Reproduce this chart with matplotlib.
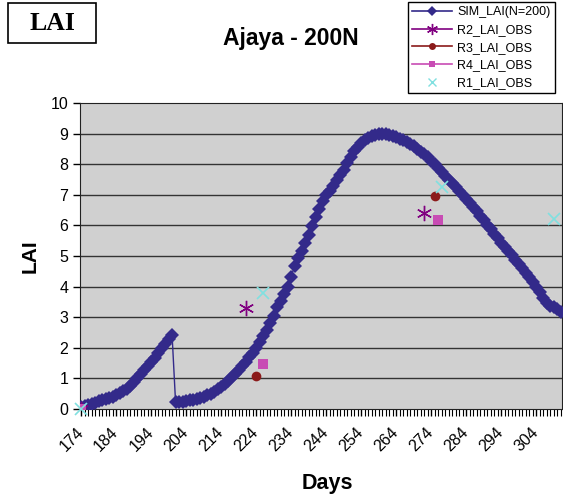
import matplotlib
matplotlib.use('Agg')
import matplotlib.pyplot as plt
from matplotlib.lines import Line2D
from matplotlib.patches import Rectangle
from matplotlib.ticker import MultipleLocator, FixedLocator
import numpy

plt.rcParams['font.family'] = ['Liberation Sans', 'DejaVu Sans']

# simulated LAI, one value per day 174..311
sim_days = list(range(174, 312))
sim_lai = [
    0.05, 0.09, 0.13, 0.17, 0.21, 0.25, 0.29, 0.32, 0.36, 0.40,   # 174-183
    0.45, 0.51, 0.58, 0.66, 0.75, 0.88, 1.02, 1.14, 1.27, 1.40,   # 184-193
    1.54, 1.68, 1.83, 1.98, 2.13, 2.28, 2.43, 0.22, 0.23, 0.24,   # 194-203
    0.26, 0.28, 0.30, 0.33, 0.36, 0.40, 0.45, 0.50, 0.57, 0.65,   # 204-213
    0.73, 0.82, 0.92, 1.03, 1.15, 1.27, 1.40, 1.54, 1.69, 1.84,   # 214-223
    2.00, 2.18, 2.38, 2.58, 2.80, 3.05, 3.32, 3.52, 3.75, 4.00,   # 224-233
    4.33, 4.66, 4.95, 5.15, 5.42, 5.68, 5.97, 6.27, 6.55, 6.80,   # 234-243
    6.98, 7.12, 7.28, 7.50, 7.65, 7.82, 8.05, 8.25, 8.42, 8.55,   # 244-253
    8.68, 8.78, 8.86, 8.93, 8.97, 9.00, 9.00, 8.98, 8.96, 8.93,   # 254-263
    8.88, 8.82, 8.78, 8.72, 8.66, 8.58, 8.50, 8.41, 8.32, 8.22,   # 264-273
    8.12, 8.02, 7.88, 7.75, 7.62, 7.50, 7.38, 7.26, 7.13, 7.00,   # 274-283
    6.87, 6.74, 6.60, 6.46, 6.32, 6.17, 6.02, 5.87, 5.72, 5.58,   # 284-293
    5.44, 5.30, 5.16, 5.02, 4.88, 4.74, 4.60, 4.45, 4.30, 4.15,   # 294-303
    4.00, 3.82, 3.64, 3.47, 3.38, 3.33, 3.26, 3.18,               # 304-311
]

# observed LAI per replicate
r2_days = [174, 221, 272]
r2_lai = [0.0, 3.30, 6.42]
r3_days = [174, 224, 275]
r3_lai = [0.0, 1.08, 6.95]
r4_days = [174, 226, 276]
r4_lai = [0.0, 1.47, 6.18]
r1_days = [174, 226, 277, 309]
r1_lai = [0.0, 3.78, 7.26, 6.20]

tick_days = list(range(174, 305, 10))

c_sim = '#332a8a'
c_r2 = '#800080'
c_r3 = '#8b1a1a'
c_r4 = '#c84cb4'
c_r1 = '#80e0e0'

W, H = 563, 495
fig = plt.figure(figsize=(W / 100, H / 100), dpi=100)
ax = fig.add_axes([80 / W, 1 - 409 / H, (562 - 80) / W, (409 - 103) / H])
ax.set_facecolor('#d0d0d0')

for v in range(1, 10):
    ax.axhline(v, color='#333333', lw=1, zorder=1)

ax.plot(sim_days, sim_lai, color=c_sim, lw=1, marker='D', markersize=7,
        markeredgewidth=0, zorder=3)
ax.plot(r2_days, r2_lai, ls='none', marker=(6, 2, 0), markersize=11,
        markeredgewidth=1.0, color=c_r2, zorder=4)
ax.plot(r3_days, r3_lai, ls='none', marker='o', markersize=7,
        markeredgewidth=0, color=c_r3, zorder=4)
ax.plot(r4_days, r4_lai, ls='none', marker='s', markersize=6.5,
        markeredgewidth=0, color=c_r4, zorder=4)
ax.plot(r1_days, r1_lai, ls='none', marker='x', markersize=8,
        markeredgewidth=1.2, color=c_r1, zorder=5, clip_on=False)

ax.set_xlim(173.7, 311.4)
ax.set_ylim(0, 10)
ax.yaxis.set_major_locator(MultipleLocator(1))
ax.xaxis.set_major_locator(FixedLocator(tick_days))
ax.xaxis.set_minor_locator(MultipleLocator(1))
ax.tick_params(axis='both', direction='out', length=5, width=1, labelsize=11.5)
ax.tick_params(axis='x', which='major', pad=10)
ax.tick_params(axis='x', which='minor', length=5, width=0.8)
ax.set_xticks(tick_days)
ax.set_xticklabels([str(d) for d in tick_days], rotation=45, ha='right',
                   va='center', rotation_mode='anchor')
for s in ax.spines.values():
    s.set_color('#222222')

fig.text(30 / W, 1 - 256 / H, 'LAI', rotation=90, fontsize=15,
         fontweight='bold', ha='center', va='center')
fig.text(327 / W, 1 - 483 / H, 'Days', fontsize=15.5, fontweight='bold',
         ha='center', va='center')
fig.text(291 / W, 1 - 39 / H, 'Ajaya - 200N', fontsize=16.5,
         fontweight='bold', ha='center', va='center')

# boxed panel label
fig.patches.append(Rectangle((8 / W, 1 - 43 / H), 88 / W, 40 / H,
                             transform=fig.transFigure, fill=False,
                             edgecolor='black', lw=1.2))
fig.text(52 / W, 1 - 24 / H, 'LAI', family=['Liberation Serif', 'DejaVu Serif'],
         fontsize=18.5, fontweight='bold', ha='center', va='center')

handles = [
    Line2D([], [], color=c_sim, marker='D', markersize=5, markeredgewidth=0, lw=1.2),
    Line2D([], [], color=c_r2, marker=(6, 2, 0), markersize=8, markeredgewidth=1.0, lw=1.2),
    Line2D([], [], color=c_r3, marker='o', markersize=5, markeredgewidth=0, lw=1.2),
    Line2D([], [], color=c_r4, marker='s', markersize=5, markeredgewidth=0, lw=1.2),
    Line2D([], [], color=c_r1, marker='x', markersize=6, markeredgewidth=1, ls='none'),
]
labels = ['SIM_LAI(N=200)', 'R2_LAI_OBS', 'R3_LAI_OBS', 'R4_LAI_OBS', 'R1_LAI_OBS']
leg = fig.legend(handles, labels, loc='upper left',
                 bbox_to_anchor=(408 / W, 1 - 2 / H), fontsize=9,
                 handlelength=3.2, labelspacing=0.45, borderpad=0.35,
                 handletextpad=0.4, borderaxespad=0, fancybox=False,
                 framealpha=1, edgecolor='black')
leg.get_frame().set_linewidth(1)

fig.savefig('out.png', dpi=100)
